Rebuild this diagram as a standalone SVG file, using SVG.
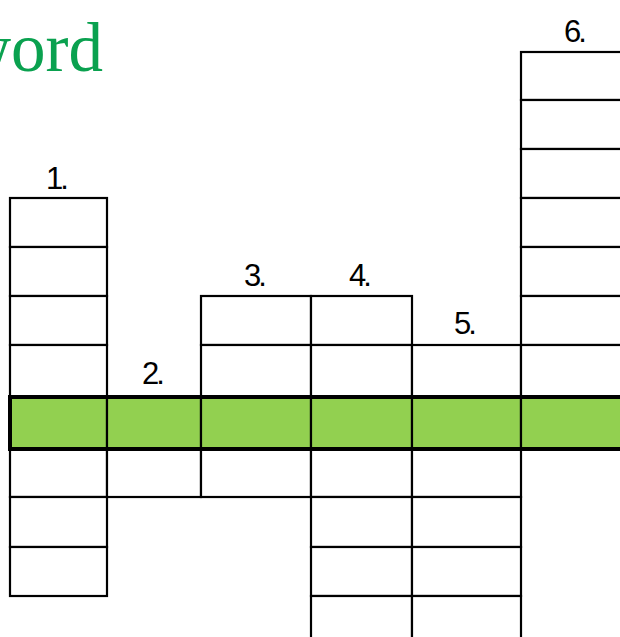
<svg xmlns="http://www.w3.org/2000/svg" width="620" height="637" viewBox="0 0 620 637">
<style>
.c{fill:#fff;stroke:#000;stroke-width:2.2}
.b{fill:#92D050;stroke:#000;stroke-width:2.2}
.n{font-family:"Liberation Sans",Arial,sans-serif;font-size:31px;fill:#000;letter-spacing:-3px}
.t{font-family:"Liberation Serif","Times New Roman",serif;font-size:69px;fill:#0AA14F}
</style>
<rect width="620" height="637" fill="#fff"/>
<text class="t" x="103" y="71" text-anchor="end">word</text>
<g id="clue1">
<rect class="c" x="10" y="198" width="97" height="49"/>
<rect class="c" x="10" y="247" width="97" height="49"/>
<rect class="c" x="10" y="296" width="97" height="49"/>
<rect class="c" x="10" y="345" width="97" height="52"/>
<rect class="c" x="10" y="449" width="97" height="48"/>
<rect class="c" x="10" y="497" width="97" height="50"/>
<rect class="c" x="10" y="547" width="97" height="49"/>
<text class="n" x="46" y="189">1.</text>
</g>
<g id="clue2">
<rect class="c" x="107" y="449" width="94" height="48"/>
<text class="n" x="142" y="384">2.</text>
</g>
<g id="clue3">
<rect class="c" x="201" y="296" width="110" height="49"/>
<rect class="c" x="201" y="345" width="110" height="52"/>
<rect class="c" x="201" y="449" width="110" height="48"/>
<text class="n" x="244" y="286">3.</text>
</g>
<g id="clue4">
<rect class="c" x="311" y="296" width="101" height="49"/>
<rect class="c" x="311" y="345" width="101" height="52"/>
<rect class="c" x="311" y="449" width="101" height="48"/>
<rect class="c" x="311" y="497" width="101" height="50"/>
<rect class="c" x="311" y="547" width="101" height="49"/>
<rect class="c" x="311" y="596" width="101" height="50"/>
<text class="n" x="349" y="286">4.</text>
</g>
<g id="clue5">
<rect class="c" x="412" y="345" width="109" height="52"/>
<rect class="c" x="412" y="449" width="109" height="48"/>
<rect class="c" x="412" y="497" width="109" height="50"/>
<rect class="c" x="412" y="547" width="109" height="49"/>
<rect class="c" x="412" y="596" width="109" height="50"/>
<text class="n" x="454" y="334">5.</text>
</g>
<g id="clue6">
<rect class="c" x="521" y="52" width="110" height="48"/>
<rect class="c" x="521" y="100" width="110" height="49"/>
<rect class="c" x="521" y="149" width="110" height="49"/>
<rect class="c" x="521" y="198" width="110" height="49"/>
<rect class="c" x="521" y="247" width="110" height="49"/>
<rect class="c" x="521" y="296" width="110" height="49"/>
<rect class="c" x="521" y="345" width="110" height="52"/>
<text class="n" x="564" y="42">6.</text>
</g>
<g id="answer">
<rect class="b" x="10" y="397" width="97" height="52"/>
<rect class="b" x="107" y="397" width="94" height="52"/>
<rect class="b" x="201" y="397" width="110" height="52"/>
<rect class="b" x="311" y="397" width="101" height="52"/>
<rect class="b" x="412" y="397" width="109" height="52"/>
<rect class="b" x="521" y="397" width="110" height="52"/>
<rect x="10" y="397" width="625" height="52" fill="none" stroke="#000" stroke-width="4"/>
</g>
</svg>
